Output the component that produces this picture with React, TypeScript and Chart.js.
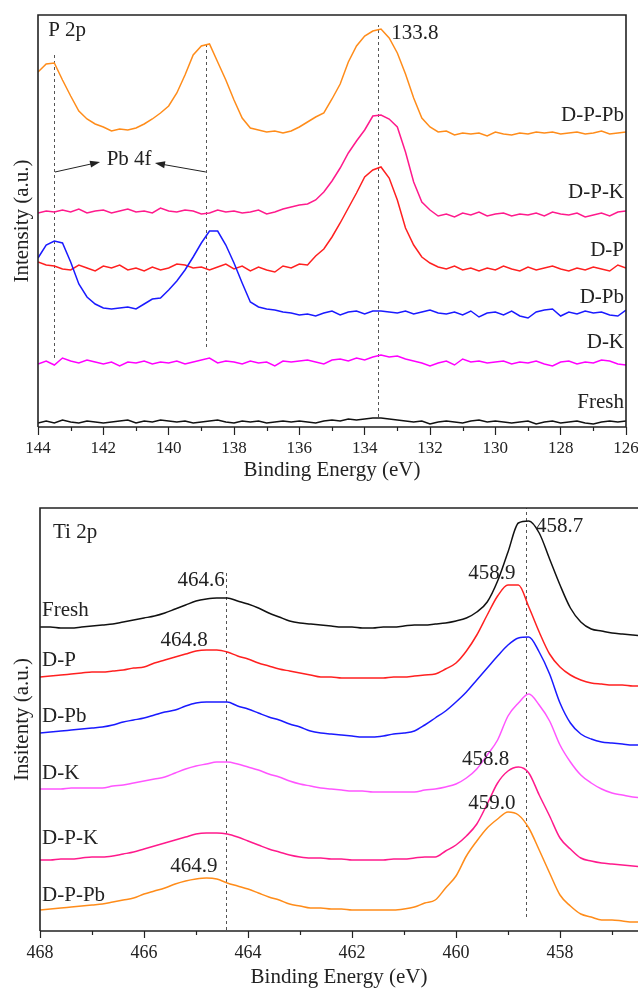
import React, { useEffect, useRef } from 'react';
import { Chart, registerables } from 'chart.js';

Chart.register(...registerables);

const SERIF = '"Liberation Serif", "Times New Roman", serif';
const INK = '#222';

// ---------------- P 2p panel (top) ----------------
const P2P_ENERGY: number[] = Array.from({ length: 73 }, (_, i) => +(144 - i * 0.25).toFixed(2));
const P2P_FRESH = [
  4, 6, 4, 7, 5, 4, 6, 5, 4, 5,
  6, 7, 4, 6, 5, 7, 6, 5, 6, 4,
  5, 6, 7, 5, 4, 6, 5, 6, 4, 5,
  6, 5, 6, 5, 4, 6, 7, 6, 8, 7,
  8, 9, 9, 8, 7, 6, 5, 6, 3, 5,
  6, 5, 4, 6, 7, 5, 6, 5, 4, 5,
  6, 3, 5, 6, 4, 5, 6, 4, 3, 5,
  6, 5, 6,
];
const P2P_DK = [
  63, 66, 62, 69, 66, 64, 67, 65, 63, 65,
  61, 65, 64, 66, 63, 65, 64, 66, 63, 65,
  67, 69, 64, 66, 65, 63, 66, 64, 65, 61,
  66, 65, 66, 67, 65, 63, 67, 68, 66, 69,
  67, 70, 72, 70, 71, 68, 66, 64, 61, 64,
  66, 62, 68, 65, 66, 64, 65, 66, 63, 65,
  64, 66, 63, 61, 65, 66, 63, 65, 64, 67,
  66, 63, 62,
];
const P2P_DPB = [
  169, 182, 186, 184, 165, 143, 130, 123, 119, 118,
  119, 120, 118, 123, 128, 129, 137, 146, 157, 170,
  184, 196, 196, 182, 164, 144, 125, 120, 118, 117,
  115, 114, 112, 113, 111, 114, 116, 112, 115, 116,
  113, 116, 116, 115, 114, 116, 113, 115, 117, 114,
  113, 115, 112, 116, 110, 114, 115, 112, 116, 111,
  109, 115, 117, 118, 111, 115, 113, 116, 114, 115,
  112, 111, 117,
];
const P2P_DP = [
  165, 162, 161, 158, 157, 162, 159, 156, 161, 159,
  162, 157, 159, 156, 160, 157, 159, 163, 162, 159,
  160, 157, 160, 163, 158, 161, 156, 160, 157, 155,
  161, 159, 163, 162, 171, 178, 190, 204, 219, 234,
  250, 257, 260, 249, 227, 199, 182, 170, 164, 160,
  158, 161, 157, 159, 156, 159, 157, 161, 158, 156,
  160, 157, 159, 161, 158, 156, 159, 157, 160, 158,
  156, 162, 159,
];
const P2P_DPK = [
  214, 216, 215, 217, 215, 218, 214, 216, 217, 214,
  216, 218, 215, 216, 214, 219, 216, 215, 217, 216,
  213, 214, 217, 215, 216, 214, 215, 217, 213, 215,
  218, 220, 222, 223, 227, 235, 246, 259, 274, 286,
  297, 311, 312, 308, 300, 275, 245, 225, 217, 211,
  213, 210, 214, 212, 215, 211, 213, 214, 211, 213,
  212, 214, 211, 215, 213, 212, 214, 210, 212, 214,
  211, 215, 216,
];
const P2P_DPPB = [
  355, 363, 364, 347, 331, 316, 308, 303, 300, 296,
  298, 297, 299, 303, 308, 314, 321, 334, 352, 372,
  381, 383, 365, 347, 327, 309, 299, 297, 295, 296,
  294, 296, 300, 305, 310, 314, 328, 343, 365, 381,
  391, 396, 398, 389, 374, 353, 329, 309, 300, 295,
  296, 292, 294, 293, 294, 291, 295, 293, 292, 294,
  293, 295, 294, 295, 293, 294, 295, 293, 294, 296,
  293, 294, 295,
];
const P2P_MAJOR_TICKS = [144, 142, 140, 138, 136, 134, 132, 130, 128, 126];
const P2P_MINOR_TICKS = [143, 141, 139, 137, 135, 133, 131, 129, 127];

// ---------------- Ti 2p panel (bottom) ----------------
const TI_ENERGY: number[] = Array.from({ length: 59 }, (_, i) => +(468 - i * 0.2).toFixed(1));
const TI_FRESH = [
  304, 304, 303, 303, 304, 305, 306, 307, 309, 311,
  313, 315, 318, 322, 326, 330, 332, 333, 333, 330,
  327, 323, 318, 314, 310, 308, 307, 306, 305, 304,
  304, 303, 303, 304, 304, 305, 306, 306, 307, 308,
  310, 313, 319, 329, 350, 379, 408, 410, 398, 372,
  346, 323, 309, 302, 300, 298, 297, 296, 295,
];
const TI_DP = [
  254, 255, 256, 257, 258, 259, 259, 260, 261, 263,
  264, 268, 271, 274, 277, 280, 281, 281, 279, 275,
  272, 268, 265, 262, 260, 258, 256, 254, 254, 253,
  253, 253, 253, 253, 254, 254, 255, 256, 257, 262,
  268, 280, 296, 316, 335, 346, 346, 324, 299, 277,
  264, 256, 251, 248, 247, 246, 246, 245, 245,
];
const TI_DPB = [
  198, 199, 200, 201, 202, 203, 204, 206, 209, 211,
  213, 216, 219, 221, 225, 228, 229, 229, 229, 225,
  222, 218, 214, 211, 207, 204, 200, 198, 197, 196,
  195, 194, 194, 195, 197, 198, 200, 206, 213, 220,
  229, 239, 251, 263, 275, 286, 293, 294, 279, 257,
  228, 208, 197, 192, 189, 188, 187, 186, 186,
];
const TI_DK = [
  142, 142, 142, 143, 143, 143, 143, 145, 146, 148,
  150, 152, 154, 158, 162, 165, 167, 169, 169, 167,
  164, 161, 157, 154, 150, 147, 145, 143, 142, 141,
  140, 140, 139, 139, 139, 139, 139, 141, 142, 144,
  147, 153, 162, 176, 191, 215, 228, 237, 226, 210,
  186, 169, 156, 148, 142, 138, 136, 134, 133,
];
const TI_DPK = [
  71, 71, 72, 72, 73, 74, 74, 75, 77, 79,
  82, 85, 88, 91, 94, 97, 98, 98, 97, 94,
  90, 86, 82, 79, 76, 74, 73, 73, 72, 72,
  71, 71, 71, 71, 72, 72, 73, 74, 74, 80,
  86, 95, 107, 127, 148, 160, 164, 158, 136, 115,
  93, 82, 73, 70, 68, 67, 66, 65, 64,
];
const TI_DPPB = [
  21, 22, 23, 24, 25, 26, 27, 29, 31, 33,
  37, 40, 43, 47, 50, 52, 53, 52, 48, 45,
  42, 38, 34, 31, 27, 25, 23, 23, 22, 22,
  21, 21, 21, 21, 21, 22, 24, 28, 31, 43,
  55, 75, 90, 103, 112, 119, 116, 103, 81, 58,
  36, 25, 17, 14, 11, 11, 10, 9, 9,
];
const TI_MAJOR_TICKS = [468, 466, 464, 462, 460, 458];
const TI_MINOR_TICKS = [467, 465, 463, 461, 459, 457];

const COLORS_TOP = {
  Fresh: '#111111',
  'D-K': '#ff00ff',
  'D-Pb': '#1a1aff',
  'D-P': '#ff2020',
  'D-P-K': '#ff1a8c',
  'D-P-Pb': '#ff8c1a',
};
const COLORS_BOTTOM = { ...COLORS_TOP, 'D-K': '#ff55ff' };

type TextItem = { text: string; x: number; y: number; align: CanvasTextAlign };
type VLine = { x: number; y0: number; y1: number };
type Arrow = { x0: number; y0: number; x1: number; y1: number };
type Decor = {
  minor: number[];
  minorLen: number;
  vlines: VLine[];
  arrows: Arrow[];
  texts: TextItem[];
  rightBorder: boolean;
};

function decorPlugin(d: Decor) {
  return {
    id: 'decor',
    beforeDatasetsDraw(chart: any) {
      const { ctx, scales } = chart;
      const x = scales.x, y = scales.y;
      ctx.save();
      ctx.strokeStyle = '#555';
      ctx.lineWidth = 1;
      ctx.setLineDash([3, 3]);
      for (const v of d.vlines) {
        const px = Math.round(x.getPixelForValue(v.x)) + 0.5;
        ctx.beginPath();
        ctx.moveTo(px, y.getPixelForValue(v.y0));
        ctx.lineTo(px, y.getPixelForValue(v.y1));
        ctx.stroke();
      }
      ctx.restore();
    },
    afterDraw(chart: any) {
      const { ctx, chartArea: a, scales } = chart;
      const x = scales.x, y = scales.y;
      ctx.save();
      // arrows
      ctx.strokeStyle = INK;
      ctx.fillStyle = INK;
      ctx.lineWidth = 1;
      for (const ar of d.arrows) {
        const x0 = x.getPixelForValue(ar.x0), y0 = y.getPixelForValue(ar.y0);
        const x1 = x.getPixelForValue(ar.x1), y1 = y.getPixelForValue(ar.y1);
        const ang = Math.atan2(y1 - y0, x1 - x0);
        const L = 10, W = 3.5;
        ctx.beginPath();
        ctx.moveTo(x0, y0);
        ctx.lineTo(x1 - Math.cos(ang) * L * 0.8, y1 - Math.sin(ang) * L * 0.8);
        ctx.stroke();
        ctx.beginPath();
        ctx.moveTo(x1, y1);
        ctx.lineTo(x1 - Math.cos(ang) * L - Math.sin(ang) * W, y1 - Math.sin(ang) * L + Math.cos(ang) * W);
        ctx.lineTo(x1 - Math.cos(ang) * L + Math.sin(ang) * W, y1 - Math.sin(ang) * L - Math.cos(ang) * W);
        ctx.closePath();
        ctx.fill();
      }
      // frame
      ctx.strokeStyle = INK;
      ctx.lineWidth = 1.6;
      ctx.beginPath();
      ctx.moveTo(a.left, a.bottom);
      ctx.lineTo(a.left, a.top);
      ctx.lineTo(d.rightBorder ? a.right : a.right + 5, a.top);
      if (d.rightBorder) {
        ctx.lineTo(a.right, a.bottom);
        ctx.lineTo(a.left, a.bottom);
      } else {
        ctx.moveTo(a.left, a.bottom);
        ctx.lineTo(a.right + 5, a.bottom);
      }
      ctx.stroke();
      // minor ticks
      ctx.lineWidth = 1.2;
      for (const m of d.minor) {
        const px = Math.round(x.getPixelForValue(m)) + 0.5;
        ctx.beginPath();
        ctx.moveTo(px, a.bottom);
        ctx.lineTo(px, a.bottom + d.minorLen);
        ctx.stroke();
      }
      // texts
      ctx.font = `21px ${SERIF}`;
      ctx.textBaseline = 'middle';
      for (const t of d.texts) {
        ctx.textAlign = t.align;
        ctx.fillText(t.text, x.getPixelForValue(t.x), y.getPixelForValue(t.y));
      }
      ctx.restore();
    },
  };
}

type Panel = {
  energy: number[];
  series: { name: string; values: number[] }[];
  colors: Record<string, string>;
  smooth: boolean;
  xMin: number;
  xMax: number;
  yMax: number;
  majorTicks: number[];
  padTop: number;
  padRight: number;
  xAxisHeight: number;
  yAxisWidth: number;
  tickSize: number;
  tickPad: number;
  tickLen: number;
  xTitlePad: number;
  yTitle: string;
  decor: Decor;
};

function buildConfig(p: Panel): any {
  return {
    type: 'line',
    data: {
      datasets: p.series.map((s) => ({
        label: s.name,
        data: p.energy.map((e, i) => ({ x: e, y: s.values[i] })),
        borderColor: p.colors[s.name],
        backgroundColor: p.colors[s.name],
        borderWidth: 1.5,
        pointRadius: 0,
        fill: false,
        tension: 0,
        cubicInterpolationMode: p.smooth ? 'monotone' : 'default',
      })),
    },
    options: {
      responsive: false,
      animation: false,
      events: [],
      layout: { padding: { top: p.padTop, right: p.padRight, left: 0, bottom: 0 } },
      plugins: { legend: { display: false }, tooltip: { enabled: false } },
      scales: {
        x: {
          type: 'linear',
          reverse: true,
          min: p.xMin,
          max: p.xMax,
          afterBuildTicks: (s: any) => {
            s.ticks = p.majorTicks.map((v) => ({ value: v }));
          },
          afterFit: (s: any) => {
            s.height = p.xAxisHeight;
            s.paddingLeft = 0;
            s.paddingRight = 0;
          },
          ticks: {
            autoSkip: false,
            maxRotation: 0,
            padding: p.tickPad,
            color: INK,
            font: { family: SERIF, size: p.tickSize },
            callback: (v: number) => String(v),
          },
          grid: {
            display: true,
            drawOnChartArea: false,
            drawTicks: true,
            tickLength: p.tickLen,
            tickWidth: 1.2,
            tickColor: INK,
          },
          border: { display: false },
          title: {
            display: true,
            text: 'Binding Energy (eV)',
            color: INK,
            font: { family: SERIF, size: 21, lineHeight: 1 },
            padding: { top: 0, bottom: p.xTitlePad },
          },
        },
        y: {
          type: 'linear',
          min: 0,
          max: p.yMax,
          ticks: { display: false },
          grid: { display: false },
          border: { display: false },
          afterFit: (s: any) => {
            s.width = p.yAxisWidth;
            s.paddingTop = 0;
            s.paddingBottom = 0;
          },
          title: {
            display: true,
            text: p.yTitle,
            color: INK,
            font: { family: SERIF, size: 21, lineHeight: 1 },
            padding: { top: 11.5, bottom: 0 },
          },
        },
      },
    },
    plugins: [decorPlugin(p.decor)],
  };
}

const topPanel: Panel = {
  energy: P2P_ENERGY,
  series: [
    { name: 'Fresh', values: P2P_FRESH },
    { name: 'D-K', values: P2P_DK },
    { name: 'D-Pb', values: P2P_DPB },
    { name: 'D-P', values: P2P_DP },
    { name: 'D-P-K', values: P2P_DPK },
    { name: 'D-P-Pb', values: P2P_DPPB },
  ],
  colors: COLORS_TOP,
  smooth: false,
  xMin: 126,
  xMax: 144,
  yMax: 412,
  majorTicks: P2P_MAJOR_TICKS,
  padTop: 15,
  padRight: 12,
  xAxisHeight: 68,
  yAxisWidth: 38,
  tickSize: 17,
  tickPad: 3,
  tickLen: 8,
  xTitlePad: 14.5,
  yTitle: 'Intensity (a.u.)',
  decor: {
    minor: P2P_MINOR_TICKS,
    minorLen: 4,
    rightBorder: true,
    vlines: [
      { x: 143.5, y0: 69, y1: 375 },
      { x: 138.85, y0: 80, y1: 384 },
      { x: 133.6, y0: 10, y1: 402 },
    ],
    arrows: [
      { x0: 143.48, y0: 255, x1: 142.1, y1: 265 },
      { x0: 138.86, y0: 255, x1: 140.42, y1: 264 },
    ],
    texts: [
      { text: 'P 2p', x: 143.69, y: 397, align: 'left' },
      { text: '133.8', x: 133.19, y: 394, align: 'left' },
      { text: 'Pb 4f', x: 141.21, y: 268, align: 'center' },
      { text: 'D-P-Pb', x: 126.06, y: 312, align: 'right' },
      { text: 'D-P-K', x: 126.06, y: 235, align: 'right' },
      { text: 'D-P', x: 126.06, y: 177, align: 'right' },
      { text: 'D-Pb', x: 126.06, y: 130, align: 'right' },
      { text: 'D-K', x: 126.06, y: 85, align: 'right' },
      { text: 'Fresh', x: 126.06, y: 25, align: 'right' },
    ],
  },
};

const bottomPanel: Panel = {
  energy: TI_ENERGY,
  series: [
    { name: 'Fresh', values: TI_FRESH },
    { name: 'D-P', values: TI_DP },
    { name: 'D-Pb', values: TI_DPB },
    { name: 'D-K', values: TI_DK },
    { name: 'D-P-K', values: TI_DPK },
    { name: 'D-P-Pb', values: TI_DPPB },
  ],
  colors: COLORS_BOTTOM,
  smooth: true,
  xMin: 456.5,
  xMax: 468,
  yMax: 423,
  majorTicks: TI_MAJOR_TICKS,
  padTop: 13,
  padRight: 0,
  xAxisHeight: 57,
  yAxisWidth: 40,
  tickSize: 18,
  tickPad: 4,
  tickLen: 7,
  xTitlePad: 0.5,
  yTitle: 'Insitenty (a.u.)',
  decor: {
    minor: TI_MINOR_TICKS,
    minorLen: 4,
    rightBorder: false,
    vlines: [
      { x: 464.42, y0: 1, y1: 361 },
      { x: 458.65, y0: 14, y1: 423 },
    ],
    arrows: [],
    texts: [
      { text: 'Ti 2p', x: 467.75, y: 399, align: 'left' },
      { text: '464.6', x: 464.9, y: 351, align: 'center' },
      { text: '464.8', x: 465.23, y: 291, align: 'center' },
      { text: '464.9', x: 465.04, y: 65, align: 'center' },
      { text: '458.7', x: 458.46, y: 405, align: 'left' },
      { text: '458.9', x: 459.31, y: 358, align: 'center' },
      { text: '458.8', x: 459.43, y: 172, align: 'center' },
      { text: '459.0', x: 459.31, y: 128, align: 'center' },
      { text: 'Fresh', x: 467.96, y: 321, align: 'left' },
      { text: 'D-P', x: 467.96, y: 271, align: 'left' },
      { text: 'D-Pb', x: 467.96, y: 215, align: 'left' },
      { text: 'D-K', x: 467.96, y: 158, align: 'left' },
      { text: 'D-P-K', x: 467.96, y: 93, align: 'left' },
      { text: 'D-P-Pb', x: 467.96, y: 36, align: 'left' },
    ],
  },
};

function PanelChart({ panel, top, height }: { panel: Panel; top: number; height: number }) {
  const ref = useRef<HTMLCanvasElement | null>(null);
  useEffect(() => {
    if (!ref.current) return;
    const chart = new Chart(ref.current, buildConfig(panel));
    return () => chart.destroy();
  }, [panel]);
  return (
    <canvas
      ref={ref}
      width={638}
      height={height}
      style={{ position: 'absolute', left: 0, top, width: 638, height, display: 'block' }}
    />
  );
}

export default function App() {
  return (
    <div style={{ position: 'absolute', left: 0, top: 0, width: 638, height: 988, background: '#fff', overflow: 'hidden' }}>
      <PanelChart panel={topPanel} top={0} height={495} />
      <PanelChart panel={bottomPanel} top={495} height={493} />
    </div>
  );
}
